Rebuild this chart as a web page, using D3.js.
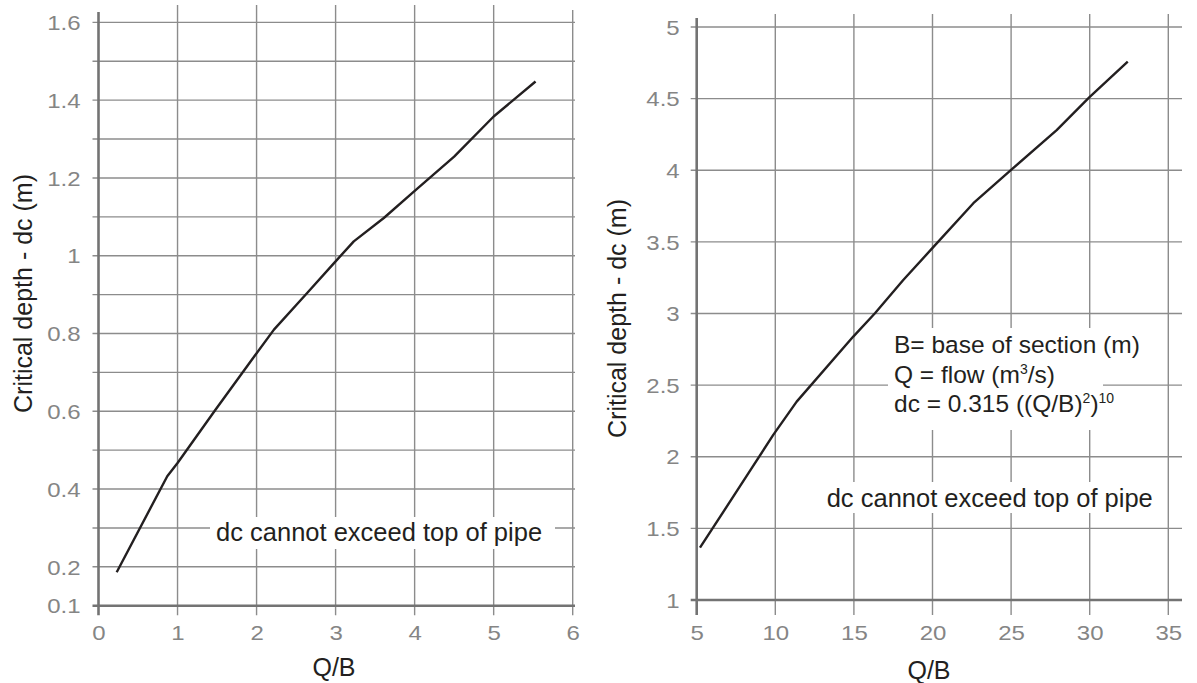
<!DOCTYPE html>
<html>
<head>
<meta charset="utf-8">
<script src="https://cdn.jsdelivr.net/npm/d3@7/dist/d3.min.js"></script>
<style>
  html, body { margin: 0; padding: 0; background: #ffffff; }
  svg { display: block; font-family: "Liberation Sans", Arial, Helvetica, sans-serif; }
</style>
</head>
<body>
<svg id="chart" width="1197" height="683"></svg>
<script>
// Critical depth curves: small range (left) and large range (right)
const leftQ  = [0.23, 0.87, 1.0, 1.48, 1.97, 2.22, 2.64, 2.98, 3.23, 3.61, 3.99, 4.5, 5.0, 5.53];
const leftDc = [0.186, 0.433, 0.467, 0.604, 0.741, 0.81, 0.904, 0.981, 1.037, 1.097, 1.165, 1.255, 1.358, 1.448];

const rightQ  = [5.21, 8.5, 9.87, 11.36, 14.96, 16.34, 18.14, 19.99, 22.6, 25.0, 27.9, 29.97, 32.42];
const rightDc = [1.365, 1.92, 2.153, 2.385, 2.839, 3.002, 3.234, 3.456, 3.77, 4.002, 4.28, 4.509, 4.758];

// Axis ticks and gridlines
const leftXTicks   = [0, 1, 2, 3, 4, 5, 6];
const leftYGrid    = [0.2, 0.3, 0.4, 0.5, 0.6, 0.7, 0.8, 0.9, 1.0, 1.1, 1.2, 1.3, 1.4, 1.5, 1.6];
const leftYLabels  = [0.1, 0.2, 0.4, 0.6, 0.8, 1, 1.2, 1.4, 1.6];
const rightXTicks  = [5, 10, 15, 20, 25, 30, 35];
const rightYTicks  = [1, 1.5, 2, 2.5, 3, 3.5, 4, 4.5, 5];

// Text
const yTitle = "Critical depth - dc (m)";
const xTitle = "Q/B";
const limitNote = "dc cannot exceed top of pipe";

const svg = d3.select("#chart");
const GRID = "#8c8c8c", AXIS = "#737373", TICKTXT = "#858585", INK = "#231f20";

function drawChart(cfg) {
  const g = svg.append("g");
  const x = d3.scaleLinear().domain(cfg.xDomain).range(cfg.xRange);
  const y = d3.scaleLinear().domain(cfg.yDomain).range(cfg.yRange);
  const x0 = x(cfg.xDomain[0]), y0 = y(cfg.yDomain[0]);

  // horizontal gridlines
  g.append("g").selectAll("line").data(cfg.yGrid).join("line")
    .attr("x1", x0 - 6).attr("x2", cfg.gridRight)
    .attr("y1", d => y(d)).attr("y2", d => y(d))
    .attr("stroke", GRID).attr("stroke-width", 1.4);

  // vertical gridlines (extend below the axis as ticks)
  const xt = cfg.xTicks.slice(1);
  g.append("g").selectAll("line").data(xt).join("line")
    .attr("x1", d => x(d)).attr("x2", d => x(d))
    .attr("y1", (d, i) => i === xt.length - 1 ? cfg.edgeTop : cfg.gridTop)
    .attr("y2", y0 + cfg.tickDown)
    .attr("stroke", GRID).attr("stroke-width", 1.4);

  // axis lines
  g.append("line").attr("x1", x0).attr("x2", x0)
    .attr("y1", cfg.axisTop).attr("y2", y0 + cfg.tickDown)
    .attr("stroke", AXIS).attr("stroke-width", 2.6);
  g.append("line").attr("x1", x0 - 6).attr("x2", cfg.gridRight)
    .attr("y1", y0).attr("y2", y0)
    .attr("stroke", AXIS).attr("stroke-width", 2.6);

  // y tick labels
  const ya = g.append("g").attr("transform", `translate(${x0},0)`)
    .call(d3.axisLeft(y).tickValues(cfg.yLabels).tickSize(0).tickFormat(d3.format("")));
  ya.select(".domain").remove();
  ya.selectAll("text")
    .attr("x", null).attr("dy", "0.36em")
    .attr("transform", `translate(${cfg.yLabelGap},0) scale(1.2,1)`)
    .attr("text-anchor", "end")
    .attr("fill", TICKTXT).attr("font-size", 20)
    .attr("font-family", "Liberation Sans, Arial, sans-serif");

  // x tick labels
  const xa = g.append("g").attr("transform", `translate(0,${y0})`)
    .call(d3.axisBottom(x).tickValues(cfg.xTicks).tickSize(0).tickFormat(d3.format("")));
  xa.select(".domain").remove();
  xa.selectAll("text")
    .attr("y", null).attr("dy", null)
    .attr("transform", `translate(0,${639.5 - y0}) scale(1.2,1)`)
    .attr("text-anchor", "middle")
    .attr("fill", TICKTXT).attr("font-size", 20)
    .attr("font-family", "Liberation Sans, Arial, sans-serif");

  // axis titles
  g.append("text")
    .attr("transform", `translate(${cfg.yTitleX},${cfg.yTitleY}) rotate(-90)`)
    .attr("text-anchor", "middle").attr("fill", INK).attr("font-size", 25)
    .text(yTitle);
  g.append("text")
    .attr("x", cfg.xTitleX).attr("y", cfg.xTitleY)
    .attr("text-anchor", "middle").attr("fill", INK).attr("font-size", 25)
    .text(xTitle);

  return { g, x, y };
}

// ---- left chart ----
const L = drawChart({
  xDomain: [0, 6], xRange: [98.5, 572.7],
  yDomain: [0.1, 1.6], yRange: [605.7, 22.4],
  yGrid: leftYGrid, yLabels: leftYLabels, xTicks: leftXTicks,
  gridRight: 575, gridTop: 5, edgeTop: 10, axisTop: 12, tickDown: 9.5,
  yLabelGap: -18, yTitleX: 31.5, yTitleY: 293.5,
  xTitleX: 334, xTitleY: 676
});

// note box over the grid
L.g.append("rect").attr("x", 210).attr("y", 517).attr("width", 345).attr("height", 32).attr("fill", "#fff");
L.g.append("text").attr("x", 216).attr("y", 540.5)
  .attr("fill", INK).attr("font-size", 25.5).text(limitNote);

L.g.append("path")
  .datum(d3.zip(leftQ, leftDc))
  .attr("d", d3.line().x(d => L.x(d[0])).y(d => L.y(d[1])))
  .attr("fill", "none").attr("stroke", INK).attr("stroke-width", 2.4)
  .attr("stroke-linejoin", "round");

// ---- right chart ----
const R = drawChart({
  xDomain: [5, 35], xRange: [696.7, 1168.3],
  yDomain: [1, 5], yRange: [600, 27],
  yGrid: rightYTicks.slice(1), yLabels: rightYTicks, xTicks: rightXTicks,
  gridRight: 1182, gridTop: 14, edgeTop: 14, axisTop: 18, tickDown: 15,
  yLabelGap: -17, yTitleX: 625.5, yTitleY: 318.5,
  xTitleX: 929, xTitleY: 679
});

// legend box with formula
R.g.append("rect").attr("x", 888).attr("y", 328).attr("width", 272).attr("height", 44).attr("fill", "#fff");
R.g.append("rect").attr("x", 888).attr("y", 372).attr("width", 215).attr("height", 28).attr("fill", "#fff");
R.g.append("rect").attr("x", 888).attr("y", 400).attr("width", 272).attr("height", 30).attr("fill", "#fff");

const legend = R.g.append("text").attr("fill", INK).attr("font-size", 24.5);
legend.append("tspan").attr("x", 894).attr("y", 353.3).text("B= base of section (m)");
const l2 = legend.append("tspan").attr("x", 894).attr("y", 382.7);
l2.append("tspan").text("Q = flow (m");
l2.append("tspan").attr("font-size", 14).attr("dy", -9).text("3");
l2.append("tspan").attr("dy", 9).text("/s)");
const l3 = legend.append("tspan").attr("x", 894).attr("y", 411.7);
l3.append("tspan").text("dc = 0.315 ((Q/B)");
l3.append("tspan").attr("font-size", 14).attr("dy", -9).text("2");
l3.append("tspan").attr("dy", 9).text(")");
l3.append("tspan").attr("font-size", 14).attr("dy", -9).text("10");

R.g.append("rect").attr("x", 820).attr("y", 482).attr("width", 340).attr("height", 31).attr("fill", "#fff");
R.g.append("text").attr("x", 826.7).attr("y", 506.7)
  .attr("fill", INK).attr("font-size", 25.5).text(limitNote);

R.g.append("path")
  .datum(d3.zip(rightQ, rightDc))
  .attr("d", d3.line().x(d => R.x(d[0])).y(d => R.y(d[1])))
  .attr("fill", "none").attr("stroke", INK).attr("stroke-width", 2.4)
  .attr("stroke-linejoin", "round");
</script>
</body>
</html>
